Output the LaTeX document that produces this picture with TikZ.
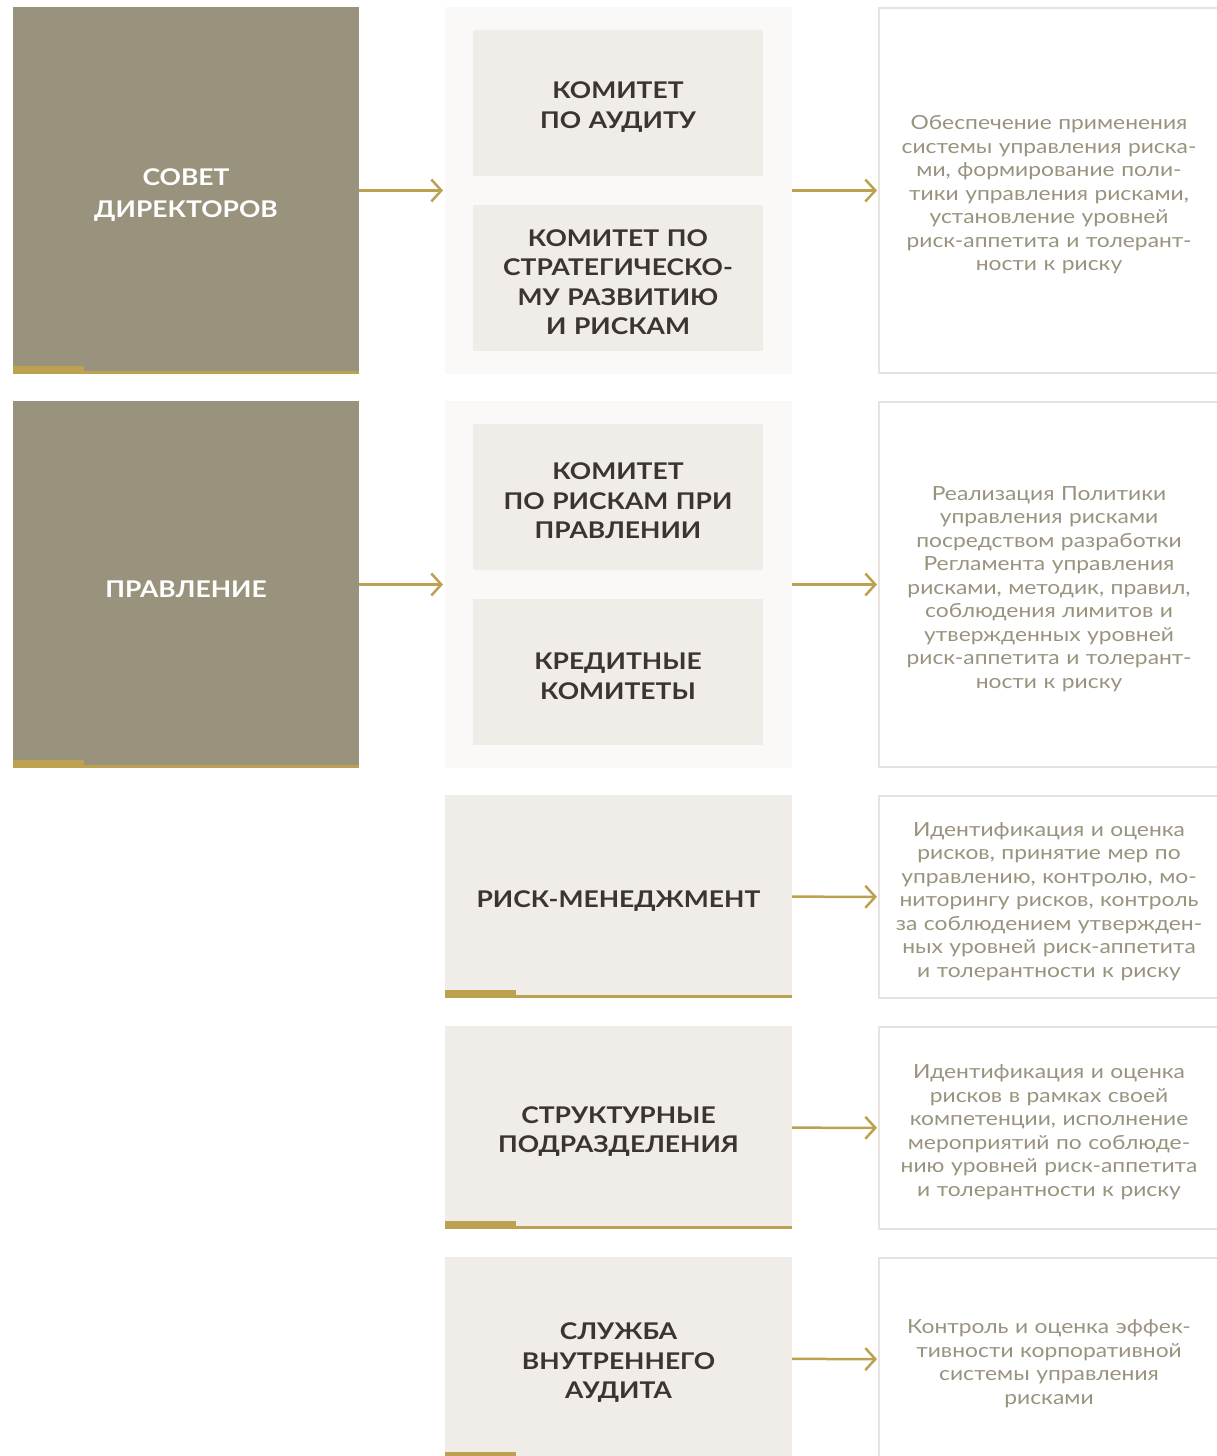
\documentclass[tikz,border=0pt]{standalone}
\usepackage{fontspec}
\setmainfont{Lato}[FakeStretch=1.17, BoldFeatures={FakeStretch=1.15}]
\usetikzlibrary{arrows.meta}
\definecolor{olive}{HTML}{99937E}
\definecolor{gold}{HTML}{BCA150}
\definecolor{panelbg}{HTML}{FAF9F7}
\definecolor{cardbg}{HTML}{F0EDE8}
\definecolor{ink}{HTML}{3A3530}
\definecolor{note}{HTML}{99937E}
\definecolor{rim}{HTML}{E8E4DD}

\begin{document}
\begin{tikzpicture}[
  x=1pt, y=-1pt,
  box/.style={inner sep=0pt, outer sep=0pt, align=center},
  lead/.style={box, fill=olive, text=white, font=\fontsize{23}{32}\selectfont\bfseries,
               text width=346pt, minimum height=367pt,
               execute at begin node={\rule{0pt}{25.5pt}}},
  panel/.style={box, fill=panelbg, minimum width=347pt, minimum height=367pt},
  card/.style={box, fill=cardbg, text=ink, font=\fontsize{23}{29.5}\selectfont\bfseries,
               text width=290pt, minimum height=146pt,
               execute at begin node={\rule{0pt}{25pt}}},
  unit/.style={card, text width=347pt, minimum height=203pt},
  memo/.style={box, draw=rim, line width=2pt, text=note,
               font=\fontsize{19.5}{23.5}\selectfont, text width=340pt,
               execute at begin node={\rule{0pt}{22.5pt}}},
  ar/.style={-{Straight Barb[length=10pt, width=22pt]}, draw=gold, line width=2.5pt,
             shorten >=2pt}
]
\useasboundingbox (0,0) rectangle (1217,1456);
\clip (0,0) rectangle (1217,1456);
% left column
\node[lead] (sd) at (186,190.5) {СОВЕТ\\ДИРЕКТОРОВ};
\node[lead] (pr) at (186,584.5) {ПРАВЛЕНИЕ};
% committee panels
\node[panel] (p1) at (618.5,190.5) {};
\node[card] (ka) at (618,103) {КОМИТЕТ\\ПО АУДИТУ};
\node[card] (ks) at (618,278) {КОМИТЕТ ПО\\СТРАТЕГИЧЕСКО-\\МУ РАЗВИТИЮ\\И РИСКАМ};
\node[panel] (p2) at (618.5,584.5) {};
\node[card] (kr) at (618,497) {КОМИТЕТ\\ПО РИСКАМ ПРИ\\ПРАВЛЕНИИ};
\node[card] (kk) at (618,672) {КРЕДИТНЫЕ\\КОМИТЕТЫ};
% units
\node[unit] (rm) at (618.5,896.5)  {РИСК-МЕНЕДЖМЕНТ};
\node[unit] (sp) at (618.5,1127.5) {СТРУКТУРНЫЕ\\ПОДРАЗДЕЛЕНИЯ};
\node[unit] (sa) at (618.5,1358.5) {СЛУЖБА\\ВНУТРЕННЕГО\\АУДИТА};
% duties
\node[memo, minimum height=365pt] (m1) at (1049,190.5)
  {Обеспечение применения\\системы управления риска-\\ми, формирование поли-\\тики управления рисками,\\установление уровней\\риск-аппетита и толерант-\\ности к риску};
\node[memo, minimum height=365pt] (m2) at (1049,584.5)
  {Реализация Политики\\управления рисками\\посредством разработки\\Регламента управления\\рисками, методик, правил,\\соблюдения лимитов и\\утвержденных уровней\\риск-аппетита и толерант-\\ности к риску};
\node[memo, minimum height=202pt] (m3) at (1049,897)
  {Идентификация и оценка\\рисков, принятие мер по\\управлению, контролю, мо-\\ниторингу рисков, контроль\\за соблюдением утвержден-\\ных уровней риск-аппетита\\и толерантности к риску};
\node[memo, minimum height=202pt] (m4) at (1049,1128)
  {Идентификация и оценка\\рисков в рамках своей\\компетенции, исполнение\\мероприятий по соблюде-\\нию уровней риск-аппетита\\и толерантности к риску};
\node[memo, minimum height=203pt] (m5) at (1049,1359.5)
  {Контроль и оценка эффек-\\тивности корпоративной\\системы управления\\рисками};
% gold bars
\foreach \n in {sd,pr,rm,sp,sa} {
  \fill[gold] (\n.south west) rectangle ([yshift=3pt]\n.south east);
  \fill[gold] (\n.south west) rectangle ([xshift=71pt,yshift=8pt]\n.south west);
}
% arrows
\draw[ar] (sd) -- (p1);
\draw[ar] (p1) -- (m1);
\draw[ar] (pr) -- (p2);
\draw[ar] (p2) -- (m2);
\draw[ar] (rm) -- (m3);
\draw[ar] (sp) -- (m4);
\draw[ar] (sa) -- (m5);
\end{tikzpicture}
\end{document}
